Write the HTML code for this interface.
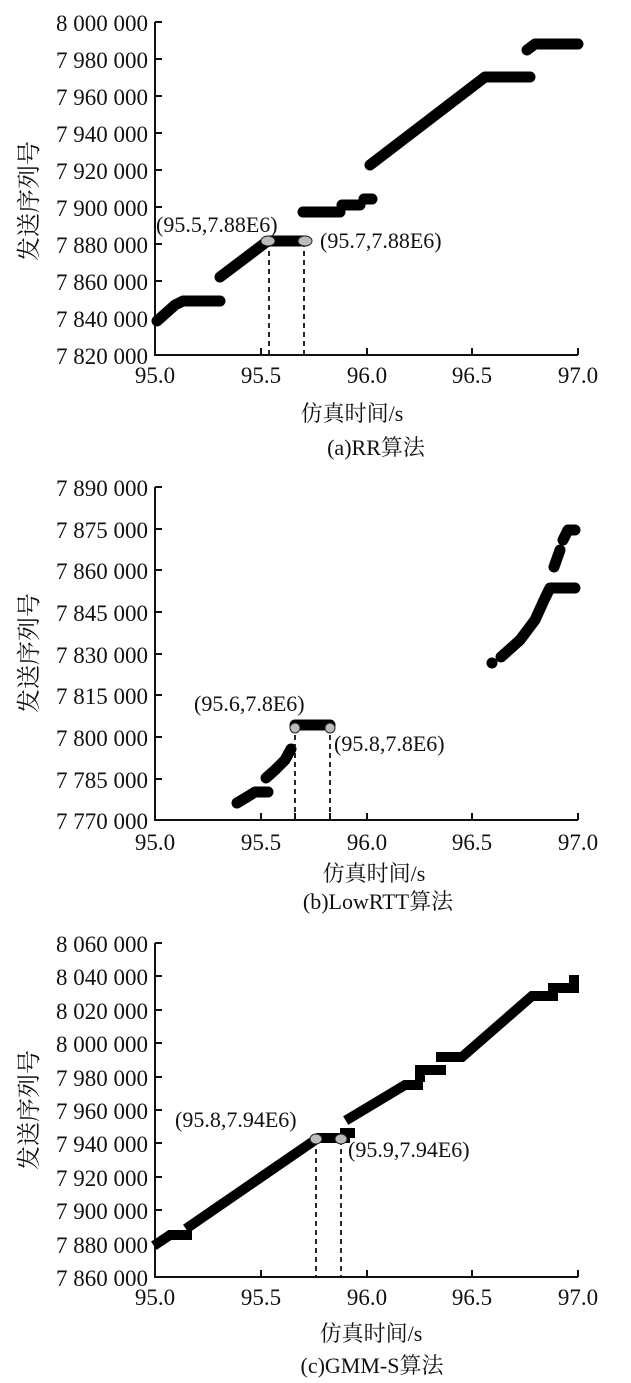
<!DOCTYPE html>
<html><head><meta charset="utf-8"><style>
body{margin:0;background:#fff}
svg{display:block}
text{font-family:"Liberation Serif","Noto Serif CJK SC","Noto Sans CJK SC",serif;fill:#111}
.t{font-size:23px;text-anchor:end}
.x{font-size:23px;text-anchor:middle}
.ti{font-size:22px;text-anchor:middle}
.yt{font-size:24px;text-anchor:middle}
.an{font-size:22px}
.ax{stroke:#111;stroke-width:2;fill:none}
.d{stroke:#000;stroke-width:11;stroke-linecap:round;stroke-linejoin:round;fill:none}
.s{stroke:#000;stroke-width:10;stroke-linecap:square;stroke-linejoin:miter;fill:none}
.ds{stroke:#111;stroke-width:1.8;stroke-dasharray:5,4;fill:none}
.e{fill:#bbb;stroke:#222;stroke-width:1}
</style></head><body>
<svg width="631" height="1383" viewBox="0 0 631 1383" xmlns="http://www.w3.org/2000/svg">
<!-- Chart A -->
<g>
<path class="ax" d="M155,22V355H578M155,22h7M155,59h7M155,96h7M155,133h7M155,170h7M155,207h7M155,244h7M155,281h7M155,318h7M261,355v-7M367,355v-7M472,355v-7M578,355v-7"/>
<text class="t" x="148" y="31">8 000 000</text><text class="t" x="148" y="68">7 980 000</text><text class="t" x="148" y="105">7 960 000</text><text class="t" x="148" y="142">7 940 000</text><text class="t" x="148" y="179">7 920 000</text><text class="t" x="148" y="216">7 900 000</text><text class="t" x="148" y="253">7 880 000</text><text class="t" x="148" y="290">7 860 000</text><text class="t" x="148" y="327">7 840 000</text><text class="t" x="148" y="364">7 820 000</text>
<text class="x" x="155" y="383">95.0</text><text class="x" x="261" y="383">95.5</text><text class="x" x="367" y="383">96.0</text><text class="x" x="472" y="383">96.5</text><text class="x" x="578" y="383">97.0</text>
<text class="ti" x="352" y="421">仿真时间/s</text>
<text class="ti" x="376" y="455">(a)RR算法</text>
<text class="yt" transform="translate(37,201) rotate(-90)">发送序列号</text>
<path class="d" d="M157,321L175,305L183,301H220M220,277L265,243M268,241H305M303,212H340M342,205H360M364,199H372M370,165L485,77H530M527,50L535,44H578"/>
<path class="ds" d="M269,242V355M304,242V355"/>
<ellipse class="e" cx="268" cy="241" rx="7" ry="5"/><ellipse class="e" cx="305" cy="241" rx="7" ry="5"/>
<text class="an" x="156" y="232">(95.5,7.88E6)</text>
<text class="an" x="320" y="248">(95.7,7.88E6)</text>
</g>
<!-- Chart B -->
<g>
<path class="ax" d="M155,487V820H578M155,487h7M155,529h7M155,570h7M155,612h7M155,654h7M155,695h7M155,737h7M155,779h7M261,820v-7M367,820v-7M472,820v-7M578,820v-7M295,820v-7M330,820v-7"/>
<text class="t" x="148" y="496">7 890 000</text><text class="t" x="148" y="538">7 875 000</text><text class="t" x="148" y="579">7 860 000</text><text class="t" x="148" y="621">7 845 000</text><text class="t" x="148" y="663">7 830 000</text><text class="t" x="148" y="704">7 815 000</text><text class="t" x="148" y="746">7 800 000</text><text class="t" x="148" y="788">7 785 000</text><text class="t" x="148" y="829">7 770 000</text>
<text class="x" x="155" y="850">95.0</text><text class="x" x="261" y="850">95.5</text><text class="x" x="367" y="850">96.0</text><text class="x" x="472" y="850">96.5</text><text class="x" x="578" y="850">97.0</text>
<text class="ti" x="374" y="881">仿真时间/s</text>
<text class="ti" x="378" y="909">(b)LowRTT算法</text>
<text class="yt" transform="translate(37,653) rotate(-90)">发送序列号</text>
<path class="d" d="M237,803L247,797L255,792H268M266,778L275,770L285,760L291,749M295,725H330M492,663V663M501,657L520,640L535,620L545,598L550,588H575M554,567L560,550M563,540L568,530H575"/>
<path class="ds" d="M295,726V820M330,726V820"/>
<ellipse class="e" cx="295" cy="728" rx="5" ry="5"/><ellipse class="e" cx="330" cy="728" rx="5" ry="5"/>
<text class="an" x="194" y="711">(95.6,7.8E6)</text>
<text class="an" x="334" y="751">(95.8,7.8E6)</text>
</g>
<!-- Chart C -->
<g>
<path class="ax" d="M155,943V1277H578M155,943h7M155,976h7M155,1010h7M155,1043h7M155,1077h7M155,1110h7M155,1143h7M155,1177h7M155,1210h7M155,1244h7M261,1277v-7M367,1277v-7M472,1277v-7M578,1277v-7"/>
<text class="t" x="148" y="952">8 060 000</text><text class="t" x="148" y="985">8 040 000</text><text class="t" x="148" y="1019">8 020 000</text><text class="t" x="148" y="1052">8 000 000</text><text class="t" x="148" y="1086">7 980 000</text><text class="t" x="148" y="1119">7 960 000</text><text class="t" x="148" y="1152">7 940 000</text><text class="t" x="148" y="1186">7 920 000</text><text class="t" x="148" y="1219">7 900 000</text><text class="t" x="148" y="1253">7 880 000</text><text class="t" x="148" y="1286">7 860 000</text>
<text class="x" x="155" y="1305">95.0</text><text class="x" x="261" y="1305">95.5</text><text class="x" x="367" y="1305">96.0</text><text class="x" x="472" y="1305">96.5</text><text class="x" x="578" y="1305">97.0</text>
<text class="ti" x="371" y="1341">仿真时间/s</text>
<text class="ti" x="372" y="1373">(c)GMM-S算法</text>
<text class="yt" transform="translate(37,1110) rotate(-90)">发送序列号</text>
<path class="s" d="M158,1243L170,1235H187M190,1226L318,1138H345M345,1133H350M350,1118L405,1085H418M420,1077V1070H441M441,1057H462L532,996H553M553,988H574V980"/>
<path class="ds" d="M316,1140V1277M341,1140V1277"/>
<ellipse class="e" cx="316" cy="1139" rx="6" ry="5"/><ellipse class="e" cx="341" cy="1139" rx="6" ry="5"/>
<text class="an" x="175" y="1127">(95.8,7.94E6)</text>
<text class="an" x="348" y="1157">(95.9,7.94E6)</text>
</g>
</svg>
</body></html>
